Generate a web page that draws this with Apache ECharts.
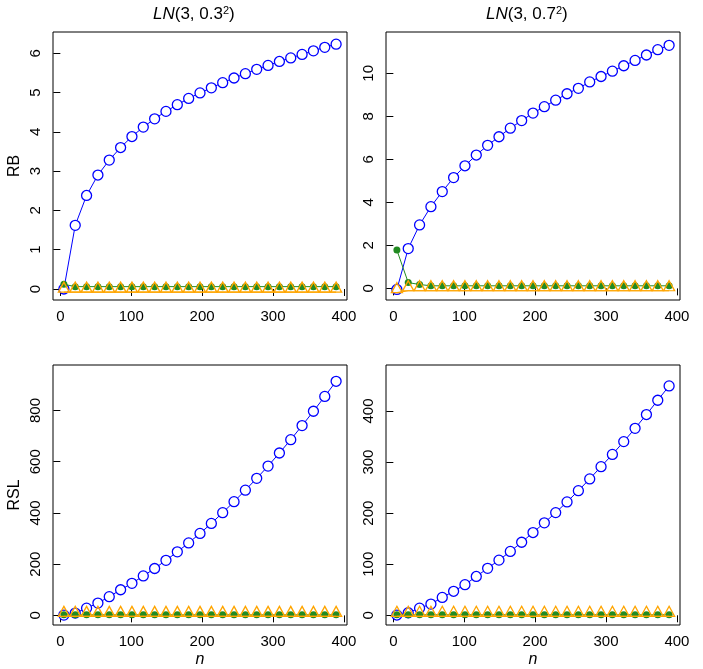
<!DOCTYPE html>
<html><head><meta charset="utf-8">
<script src="https://cdn.jsdelivr.net/npm/echarts@6/dist/echarts.min.js"></script>
<style>html,body{margin:0;padding:0;background:#fff}#c{width:703px;height:669px}</style>
</head><body><div id="c"></div>
<script>
// sample sizes
const nVals = [5,21,37,53,69,85,101,117,133,149,165,181,197,213,229,245,261,277,293,309,325,341,357,373,389];
const xTicks = [0,100,200,300,400];

// RB, LN(3, 0.3^2)
const rb1Blue   = [0.00,1.62,2.38,2.90,3.28,3.60,3.88,4.12,4.33,4.52,4.69,4.85,4.99,5.12,5.25,5.37,5.48,5.59,5.69,5.79,5.88,5.97,6.06,6.15,6.23];
const rb1Green  = [0.12,0.06,0.06,0.06,0.06,0.06,0.06,0.06,0.06,0.06,0.06,0.06,0.06,0.06,0.06,0.06,0.06,0.06,0.06,0.06,0.06,0.06,0.06,0.06,0.06];
const rb1Orange = [-0.08,-0.08,-0.08,-0.08,-0.08,-0.08,-0.08,-0.08,-0.08,-0.08,-0.08,-0.08,-0.08,-0.08,-0.08,-0.08,-0.08,-0.08,-0.08,-0.08,-0.08,-0.08,-0.08,-0.08,-0.08];
const rb1Ticks  = [0,1,2,3,4,5,6];

// RB, LN(3, 0.7^2)
const rb2Blue   = [-0.05,1.85,2.95,3.80,4.50,5.15,5.70,6.20,6.65,7.05,7.45,7.80,8.15,8.45,8.75,9.05,9.30,9.60,9.85,10.10,10.35,10.60,10.85,11.10,11.30];
const rb2Green  = [1.78,0.27,0.18,0.12,0.12,0.12,0.12,0.12,0.12,0.12,0.12,0.12,0.12,0.12,0.12,0.12,0.12,0.12,0.12,0.12,0.12,0.12,0.12,0.12,0.12];
const rb2Orange = [-0.20,-0.11,-0.11,-0.11,-0.11,-0.11,-0.11,-0.11,-0.11,-0.11,-0.11,-0.11,-0.11,-0.11,-0.11,-0.11,-0.11,-0.11,-0.11,-0.11,-0.11,-0.11,-0.11,-0.11,-0.11];
const rb2Ticks  = [0,2,4,6,8,10];

// RSL, LN(3, 0.3^2)
const rsl1Blue   = [1,9,28,48,73,100,125,154,183,215,248,283,320,359,401,444,489,535,583,634,686,741,797,855,914];
const rsl1Green  = [2,2,2,2,2,2,2,2,2,2,2,2,2,2,2,2,2,2,2,2,2,2,2,2,2];
const rsl1Orange = [-4,-4,-4,-4,-4,-4,-4,-4,-4,-4,-4,-4,-4,-4,-4,-4,-4,-4,-4,-4,-4,-4,-4,-4,-4];
const rsl1Ticks  = [0,200,400,600,800];

// RSL, LN(3, 0.7^2)
const rsl2Blue   = [0.5,5,14,22,35,47,60,76,92,108,125,143,162,181,201,222,244,267,291,315,340,366,393,421,449];
const rsl2Green  = [1,1,1,1,1,1,1,1,1,1,1,1,1,1,1,1,1,1,1,1,1,1,1,1,1];
const rsl2Orange = [-2,-2,-2,-2,-2,-2,-2,-2,-2,-2,-2,-2,-2,-2,-2,-2,-2,-2,-2,-2,-2,-2,-2,-2,-2];
const rsl2Ticks  = [0,100,200,300,400];

const FONT = 'Liberation Sans, Arial, Helvetica, sans-serif';
const panels = [
  {left:53,  top:32,  blue:rb1Blue,  green:rb1Green,  orange:rb1Orange,  ticks:rb1Ticks,  ymin:-0.28, ymax:6.54,  yname:'RB',  xname:''},
  {left:386, top:32,  blue:rb2Blue,  green:rb2Green,  orange:rb2Orange,  ticks:rb2Ticks,  ymin:-0.54, ymax:11.92, yname:'',    xname:''},
  {left:53,  top:365, blue:rsl1Blue, green:rsl1Green, orange:rsl1Orange, ticks:rsl1Ticks, ymin:-37.6, ymax:977.6, yname:'RSL', xname:'n'},
  {left:386, top:365, blue:rsl2Blue, green:rsl2Green, orange:rsl2Orange, ticks:rsl2Ticks, ymin:-19,   ymax:490,   yname:'',    xname:'n'}
];

const grid=[], xAxis=[], yAxis=[], series=[];
panels.forEach((p,i)=>{
  grid.push({left:p.left, top:p.top, width:294, height:268, show:true, borderColor:'#000', borderWidth:1, backgroundColor:'transparent', containLabel:false});
  xAxis.push({type:'value', gridIndex:i, min:-10.36, max:404.36,
    axisLine:{show:false}, splitLine:{show:false},
    axisTick:{show:true, inside:false, length:7, customValues:xTicks, lineStyle:{color:'#000'}},
    axisLabel:{show:true, customValues:xTicks, color:'#000', fontSize:15, fontFamily:FONT, margin:9},
    name:p.xname, nameLocation:'middle', nameGap:27,
    nameTextStyle:{color:'#000', fontSize:16, fontStyle:'italic', fontFamily:FONT}});
  yAxis.push({type:'value', gridIndex:i, min:p.ymin, max:p.ymax,
    axisLine:{show:false}, splitLine:{show:false},
    axisTick:{show:true, inside:false, length:7, customValues:p.ticks, lineStyle:{color:'#000'}},
    axisLabel:{show:true, customValues:p.ticks, color:'#000', fontSize:15, fontFamily:FONT, rotate:90, margin:10},
    name:p.yname, nameLocation:'middle', nameGap:30, nameRotate:90,
    nameTextStyle:{color:'#000', fontSize:16, fontFamily:FONT}});
  const mk = arr => nVals.map((n,k)=>[n,arr[k]]);
  series.push({type:'line', xAxisIndex:i, yAxisIndex:i, data:mk(p.blue), z:2,
    symbol:'circle', symbolSize:10, showSymbol:true,
    lineStyle:{color:'#0000FF', width:1},
    itemStyle:{color:'#fff', borderColor:'#0000FF', borderWidth:1.3}, animation:false});
  series.push({type:'line', xAxisIndex:i, yAxisIndex:i, data:mk(p.green), z:3,
    symbol:'circle', symbolSize:7,
    lineStyle:{color:'#228B22', width:1},
    itemStyle:{color:'#228B22', borderColor:'#228B22', borderWidth:0}, animation:false});
  series.push({type:'line', xAxisIndex:i, yAxisIndex:i, data:mk(p.orange), z:4,
    symbol:'triangle', symbolSize:[11,10], symbolOffset:[0,-5],
    lineStyle:{color:'#FFA500', width:1.2},
    itemStyle:{color:'transparent', borderColor:'#FFA500', borderWidth:1.3}, animation:false});
});

const chart = echarts.init(document.getElementById('c'), null, {renderer:'canvas'});
chart.setOption({
  animation:false,
  backgroundColor:'#fff',
  textStyle:{fontFamily:FONT},
  grid, xAxis, yAxis, series,
  graphic:[
    {type:'text', left:153, top:5, style:{text:'{i|LN}(3, 0.3{s|2})', fill:'#000', font:'17px '+FONT,
      rich:{i:{fontStyle:'italic', fontSize:17, fontFamily:FONT}, s:{fontSize:11, fontFamily:FONT, verticalAlign:'top', padding:[0,0,8,0]}}}},
    {type:'text', left:486, top:5, style:{text:'{i|LN}(3, 0.7{s|2})', fill:'#000', font:'17px '+FONT,
      rich:{i:{fontStyle:'italic', fontSize:17, fontFamily:FONT}, s:{fontSize:11, fontFamily:FONT, verticalAlign:'top', padding:[0,0,8,0]}}}}
  ]
});
</script>
</body></html>
